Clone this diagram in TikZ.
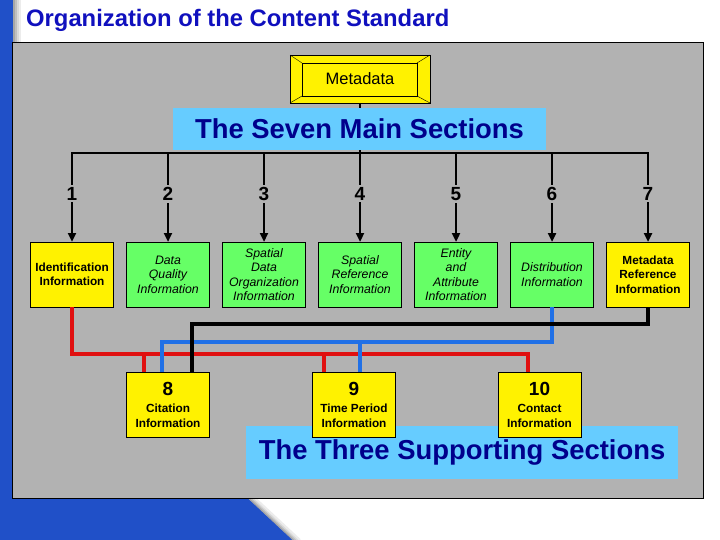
\documentclass[tikz,border=0pt]{standalone}
\usepackage{fontspec}
\setmainfont{Liberation Sans}
\usetikzlibrary{positioning, arrows.meta}
\definecolor{panelgray}{RGB}{178,178,178}
\definecolor{slideblue}{RGB}{32,80,200}
\definecolor{titleblue}{RGB}{16,16,190}
\definecolor{navy}{RGB}{0,0,140}
\definecolor{skyblue}{RGB}{102,204,255}
\definecolor{boxgreen}{RGB}{102,255,102}
\definecolor{linered}{RGB}{224,16,16}
\definecolor{lineblue}{RGB}{32,112,230}

\begin{document}
\begin{tikzpicture}[x=1pt, y=-1pt,
    sect/.style={draw, line width=0.8pt, outer sep=0pt, minimum width=83pt, minimum height=65pt,
      inner sep=1pt, align=center},
    yellowbox/.style={sect, fill=yellow, font=\fontsize{11.8}{14.5}\selectfont\bfseries},
    greenbox/.style={sect, fill=boxgreen, font=\fontsize{12.3}{14.5}\selectfont\itshape},
    num/.style={fill=panelgray, inner sep=2pt, font=\fontsize{19}{19}\selectfont\bfseries},
    banner/.style={fill=skyblue, text=navy, inner sep=0pt, font=\fontsize{27.4}{27.4}\selectfont\bfseries},
    link/.style={line width=3.5pt},
  ]
  \useasboundingbox (0,0) rectangle (720,540);
  \fill[white] (0,0) rectangle (720,540);

  % slide frame
  \fill[slideblue] (0,0) -- (13,0) -- (13,498) -- (248,498) -- (293,540) -- (0,540) -- cycle;
  \foreach \d/\c in {1/70,3/50,5/30,7/15}
    \draw[line width=2pt, gray!\c] (13+\d,0) -- (13+\d,42);
  \foreach \d/\c in {1/70,3/50,5/30,7/15}
    \draw[line width=2pt, gray!\c] (248+\d,498) -- (293+\d,540);
  \filldraw[fill=panelgray, draw=black, line width=0.8pt] (12,42) rectangle (703,498);

  \node[anchor=base west, inner sep=0pt, text=titleblue, font=\fontsize{23.8}{23.8}\selectfont\bfseries]
    (title) at (26,26.5) {Organization of the Content Standard};

  % top box
  \node[draw, fill=yellow, minimum width=140pt, minimum height=48pt, outer sep=0pt,
    font=\fontsize{16.5}{16.5}\selectfont] (meta) at (360,79) {Metadata};
  \draw ([shift={(12,8)}]meta.north west) rectangle ([shift={(-13,-7)}]meta.south east);
  \draw (meta.north west) -- ++(12,8);
  \draw (meta.north east) -- ++(-13,8);
  \draw (meta.south west) -- ++(12,-7);
  \draw (meta.south east) -- ++(-13,-7);

  \coordinate (bar) at (360,153);
  \draw[line width=1.2pt] (meta.south) -- (meta.south |- bar);
  \node[banner, minimum width=373pt, minimum height=42pt] (seven) at (359.5,129) {The Seven Main Sections};

  % main sections
  \node[yellowbox] (s1) at (72,274.5) {Identification\\Information};
  \node[greenbox, right=13pt of s1] (s2) {Data\\Quality\\Information};
  \node[greenbox, right=13pt of s2] (s3) {Spatial\\Data\\Organization\\Information};
  \node[greenbox, right=13pt of s3] (s4) {Spatial\\Reference\\Information};
  \node[greenbox, right=13pt of s4] (s5) {Entity\\and\\Attribute\\Information};
  \node[greenbox, right=13pt of s5] (s6) {Distribution\\Information};
  \node[yellowbox, right=13pt of s6] (s7) {Metadata\\Reference\\Information};

  \draw[line width=2.5pt, line cap=rect] (s1.north |- bar) -- (s7.north |- bar);
  \foreach \i in {1,...,7}
    \draw[line width=2.5pt, -{Triangle[width=8pt,length=9pt]}] (s\i.north |- bar)
      -- node[num, pos=0.46] {\i} (s\i.north);

  % supporting sections
  \node[banner, minimum width=432pt, minimum height=53pt] (three) at (462,452.5) {The Three Supporting Sections};
  \node[yellowbox] (c8) at (168,404.5) {{\fontsize{19}{19}\selectfont 8}\\[3pt]Citation\\Information};
  \node[yellowbox] (c9) at (354,404.5) {{\fontsize{19}{19}\selectfont 9}\\[3pt]Time Period\\Information};
  \node[yellowbox] (c10) at (539.5,404.5) {{\fontsize{19}{19}\selectfont 10}\\[3pt]Contact\\Information};

  \coordinate (blackrow) at (0,324);
  \coordinate (bluerow) at (0,342);
  \coordinate (redrow) at (0,354);

  \draw[link, linered] (s1.south) |- ([xshift=-11.5pt]c10.north |- redrow) -- ([xshift=-11.5pt]c10.north);
  \draw[link, linered] ([xshift=-24pt]c8.north |- redrow) -- ([xshift=-24pt]c8.north);
  \draw[link, linered] ([xshift=-30pt]c9.north |- redrow) -- ([xshift=-30pt]c9.north);
  \draw[link, lineblue] (s6.south) |- ([xshift=-6pt]c8.north |- bluerow) -- ([xshift=-6pt]c8.north);
  \draw[link, lineblue] ([xshift=6pt]c9.north |- bluerow) -- ([xshift=6pt]c9.north);
  \draw[link] (s7.south) |- ([xshift=24pt]c8.north |- blackrow) -- ([xshift=24pt]c8.north);
\end{tikzpicture}
\end{document}
